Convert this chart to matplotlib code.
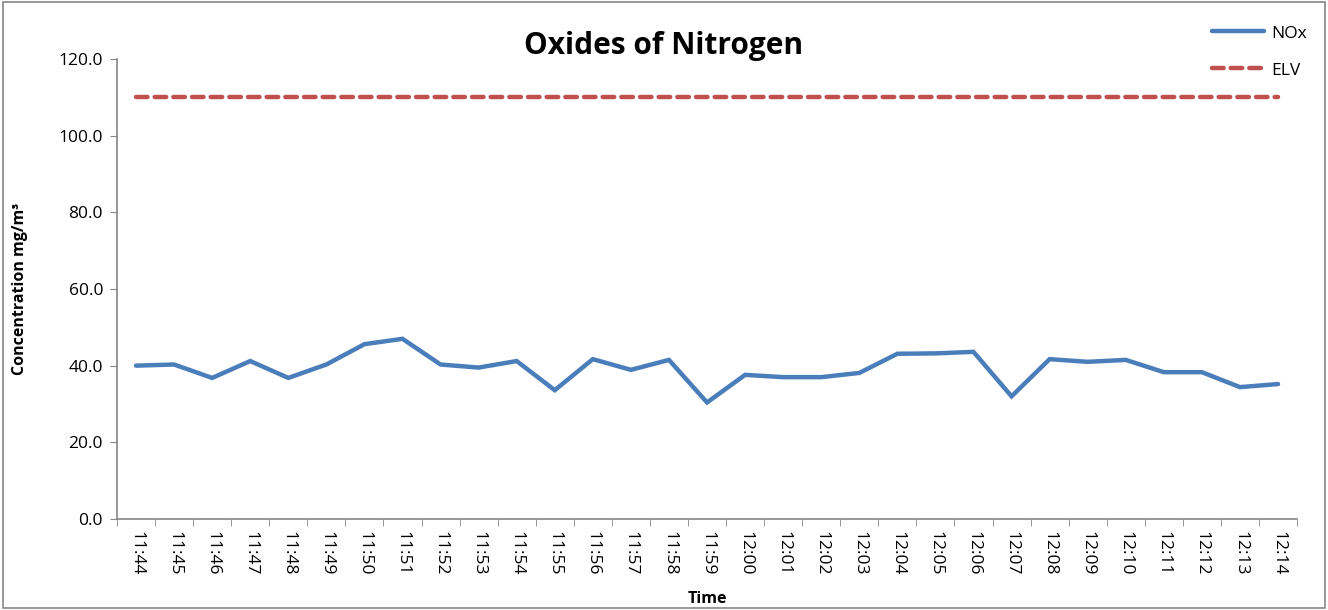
import matplotlib.pyplot as plt
from matplotlib.patches import Rectangle

plt.rcParams['font.family'] = ['Open Sans', 'DejaVu Sans']

times = ['11:44', '11:45', '11:46', '11:47', '11:48', '11:49', '11:50',
         '11:51', '11:52', '11:53', '11:54', '11:55', '11:56', '11:57',
         '11:58', '11:59', '12:00', '12:01', '12:02', '12:03', '12:04',
         '12:05', '12:06', '12:07', '12:08', '12:09', '12:10', '12:11',
         '12:12', '12:13', '12:14']
nox = [40.0, 40.3, 36.8, 41.2, 36.8, 40.3, 45.6, 47.0, 40.3, 39.5, 41.2,
       33.6, 41.7, 38.9, 41.5, 30.4, 37.6, 37.0, 37.0, 38.1, 43.1, 43.2,
       43.6, 32.0, 41.7, 41.0, 41.5, 38.3, 38.3, 34.4, 35.2]
elv = [110.0] * len(times)
y_ticks = [0, 20, 40, 60, 80, 100, 120]


def main():
    '''
    draw the NOx concentration chart
    '''
    fig = plt.figure(figsize=(13.28, 6.10), dpi=100)
    ax = fig.add_axes([0.0881, 0.1492, 0.8886, 0.7541])

    x = list(range(len(times)))
    ax.plot(x, nox, color='#4a7ebb', linewidth=3.2, label='NOx',
            solid_capstyle='round', solid_joinstyle='miter')
    ax.plot(x, elv, color='#c0504d', linewidth=3.2, label='ELV',
            linestyle=(0, (2.6, 1.6)), dash_capstyle='round')

    ax.set_xlim(-0.5, len(times) - 0.5)
    ax.set_ylim(0, 120)
    ax.set_xticks(x)
    ax.set_xticklabels(times, rotation=-90, fontsize=12.5)
    ax.set_xticks([i - 0.5 for i in range(len(times) + 1)], minor=True)
    ax.tick_params(axis='x', which='major', length=0, pad=9)
    ax.tick_params(axis='x', which='minor', length=5, color='#868686')
    ax.set_yticks(y_ticks)
    ax.set_yticklabels([f'{v:.1f}' for v in y_ticks], fontsize=12.5)
    ax.tick_params(axis='y', length=5, color='#868686', pad=5)

    for side in ['top', 'right']:
        ax.spines[side].set_visible(False)
    for side in ['left', 'bottom']:
        ax.spines[side].set_color('#868686')
        ax.spines[side].set_linewidth(1.2)

    fig.text(0.5, 0.925, 'Oxides of Nitrogen', ha='center', va='center',
             fontsize=21.5, fontweight='bold')
    ax.set_ylabel('Concentration mg/m³', fontsize=11.5, fontweight='bold',
                  labelpad=22)
    ax.set_xlabel('Time', fontsize=11.5, fontweight='bold', labelpad=11)

    fig.legend(loc='upper right', bbox_to_anchor=(0.996, 0.984),
               frameon=False, fontsize=12.5, handlelength=3.0,
               labelspacing=1.2, handletextpad=0.4)

    fig.patches.append(Rectangle((0.002, 0.004), 0.996, 0.992,
                                 transform=fig.transFigure, fill=False,
                                 edgecolor='#868686', linewidth=1.2))

    fig.savefig('out.png', dpi=100)


if __name__ == "__main__":
    main()
